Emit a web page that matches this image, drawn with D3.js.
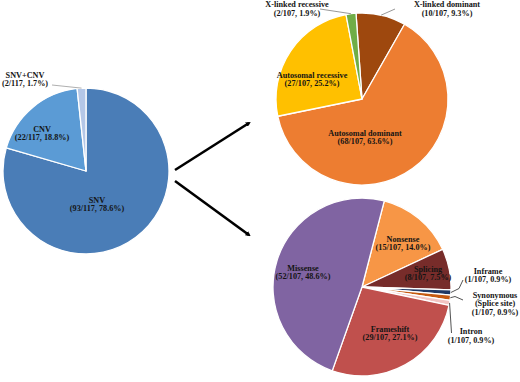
<!DOCTYPE html>
<html>
<head>
<meta charset="utf-8">
<script src="https://cdn.jsdelivr.net/npm/d3@7"></script>
<style>
  body { margin: 0; background: #fff; }
  text { font-family: "Liberation Serif", "Times New Roman", serif; font-weight: bold; font-size: 8.2px; fill: #141414; }
</style>
</head>
<body>
<svg id="chart" width="520" height="382"></svg>
<script>
// variant class (left pie)
const variantTypes = ["SNV", "CNV", "SNV+CNV"];
const variantCounts = [93, 22, 2];
const variantPct = ["78.6%", "18.8%", "1.7%"];
const variantTotal = 117;

// inheritance (top right pie)
const inheritModes = ["X-linked dominant", "Autosomal dominant", "Autosomal recessive", "X-linked recessive"];
const inheritCounts = [10, 68, 27, 2];
const inheritPct = ["9.3%", "63.6%", "25.2%", "1.9%"];
const inheritTotal = 107;

// mutation type (bottom right pie)
const mutationTypes = ["Nonsense", "Splicing", "Inframe", "Synonymous (Splice site)", "Intron", "Frameshift", "Missense"];
const mutationCounts = [15, 8, 1, 1, 1, 29, 52];
const mutationPct = ["14.0%", "7.5%", "0.9%", "0.9%", "0.9%", "27.1%", "48.6%"];
const mutationTotal = 107;

const svg = d3.select("#chart");
const deg = Math.PI / 180;

function drawPie(cfg) {
  const data = cfg.names.map((n, i) => ({ name: n, count: cfg.counts[i], pct: cfg.pct[i] }));
  const pie = d3.pie().sort(null).value(d => d.count)
    .startAngle(cfg.start * deg).endAngle(cfg.start * deg + 2 * Math.PI);
  const arcs = pie(data);
  const arc = d3.arc().innerRadius(0).outerRadius(cfg.r);

  const g = svg.append("g").attr("transform", `translate(${cfg.cx},${cfg.cy})`);

  g.selectAll("path.slice")
    .data(arcs).enter().append("path")
    .attr("class", "slice")
    .attr("d", arc)
    .attr("fill", (d, i) => cfg.colors[i])
    .attr("stroke", "#fff")
    .attr("stroke-width", 1.3)
    .attr("stroke-linejoin", "round");

  // leader lines
  arcs.forEach((d, i) => {
    const lay = cfg.labels[i];
    if (!lay.leader) return;
    const mid = (d.startAngle + d.endAngle) / 2;
    const pts = lay.leader.concat([d3.pointRadial(mid, cfg.r)]);
    g.append("path")
      .attr("d", d3.line()(pts))
      .attr("fill", "none")
      .attr("stroke", lay.leaderColor || "#8c8c8c")
      .attr("stroke-width", 0.9);
  });

  // labels
  arcs.forEach((d, i) => {
    const lay = cfg.labels[i];
    const lines = d.data.name.replace(" (", "\n(").split("\n");
    lines.push(`(${d.data.count}/${cfg.total}, ${d.data.pct})`);
    const t = g.append("text")
      .attr("text-anchor", "middle")
      .attr("x", lay.dx).attr("y", lay.dy);
    lines.forEach((s, k) => {
      t.append("tspan")
        .attr("x", lay.dx)
        .attr("y", lay.dy + k * 8.6)
        .attr("dy", "0.35em")
        .text(s);
    });
  });
}

drawPie({
  names: variantTypes, counts: variantCounts, pct: variantPct, total: variantTotal,
  cx: 86, cy: 171, r: 83, start: 0,
  colors: ["#4a7db7", "#5b9bd5", "#b4c7e7"],
  labels: [
    { dx: 11, dy: 29 },
    { dx: -44, dy: -42 },
    { dx: -61, dy: -96, leader: [[-34, -86]], leaderColor: "#a6a6a6" }
  ]
});

drawPie({
  names: inheritModes, counts: inheritCounts, pct: inheritPct, total: inheritTotal,
  cx: 362, cy: 99, r: 86, start: -4,
  colors: ["#9e480e", "#ed7d31", "#ffc000", "#70ad47"],
  labels: [
    { dx: 85, dy: -94.5, leader: [[33, -90]] },
    { dx: 3, dy: 34 },
    { dx: -50, dy: -24 },
    { dx: -65, dy: -94.5, leader: [[-42, -90]] }
  ]
});

drawPie({
  names: mutationTypes, counts: mutationCounts, pct: mutationPct, total: mutationTotal,
  cx: 362, cy: 287, r: 89, start: 14.5,
  colors: ["#f79646", "#772c2a", "#1f3864", "#c55a11", "#f2c4c2", "#c0504d", "#8064a2"],
  labels: [
    { dx: 41, dy: -48 },
    { dx: 66, dy: -18 },
    { dx: 126, dy: -16, leader: [[101, -7], [97, 1.5]], leaderColor: "#404040" },
    { dx: 133, dy: 8, leader: [[101, 13], [93, 9.5]], leaderColor: "#404040" },
    { dx: 109, dy: 44.5, leader: [[89.5, 46]], leaderColor: "#404040" },
    { dx: 28, dy: 42 },
    { dx: -59, dy: -19 }
  ]
});

// arrows from the SNV pie to the two breakdowns
const arrows = [
  [[175, 170], [249, 123]],
  [[175, 181], [249, 235]]
];
svg.append("defs").append("marker")
  .attr("id", "head")
  .attr("viewBox", "0 0 10 10")
  .attr("refX", 6).attr("refY", 5)
  .attr("markerWidth", 2).attr("markerHeight", 2)
  .attr("orient", "auto")
  .append("path").attr("d", "M0,0L10,5L0,10z").attr("fill", "#000");

svg.selectAll("path.arrow")
  .data(arrows).enter().append("path")
  .attr("class", "arrow")
  .attr("d", d => d3.line()(d))
  .attr("stroke", "#000")
  .attr("stroke-width", 2.6)
  .attr("marker-end", "url(#head)");
</script>
</body>
</html>
